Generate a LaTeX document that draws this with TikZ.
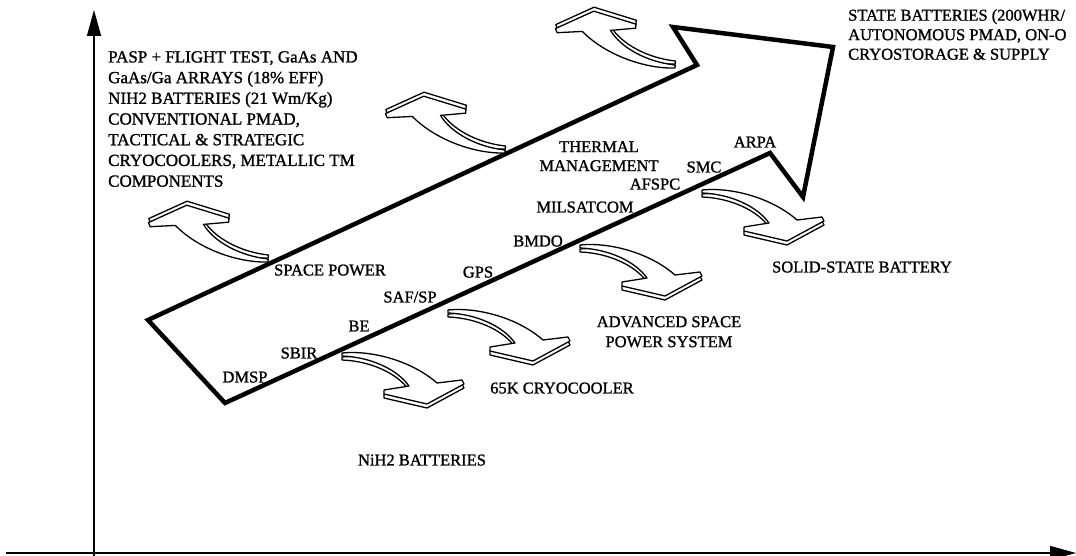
\documentclass[tikz,border=0pt]{standalone}
\usepackage{fontspec}
\setmainfont{Liberation Serif}[FakeBold=1.2]
\usetikzlibrary{arrows.meta}

\newcommand{\bentpath}{(0,0) .. controls (30,-3) and (70,8) .. (95,30) -- (120,27) -- (122,31) -- (85,51) -- (42,41) -- (42,37) -- (67,33) .. controls (55,16) and (28,4) .. (0,3) -- cycle}
\newcommand{\bentarrow}[3]{%
  \begin{scope}[shift={#1},rotate=#2,scale=#3]
    \draw[bentshape,shift={(0,4)}] \bentpath;
    \draw[bentshape] \bentpath;
  \end{scope}}

\begin{document}
\begin{tikzpicture}[x=1pt,y=-1pt,>={Triangle[length=26pt,width=14pt]},
  lbl/.style={font=\fontsize{16.5}{20.7}\selectfont,inner sep=0pt,text height=10.9pt,text depth=0pt},
  blk/.style={font=\fontsize{16.5}{20.7}\selectfont,inner sep=0pt,align=left,anchor=north west},
  cbk/.style={font=\fontsize{16.5}{20}\selectfont,inner sep=0pt,align=center,anchor=north},
  bentshape/.style={draw,fill=white,line width=1.3pt,line join=round}]
  \useasboundingbox (0,0) rectangle (1076,556);
  \clip (0,0) rectangle (1076,556);
  \draw[line width=1.6pt,->] (94,556) -- (94,10);
  \draw[line width=1.6pt,->] (6,553) -- (1076,553);
  \draw[line width=4.5pt] (148,320) -- (697,65) -- (673,27) -- (833,47) -- (803,197) -- (770,153) -- (225,403) -- cycle;
  \bentarrow{(268,262)}{176}{1}
  \bentarrow{(505,153)}{176}{1}
  \bentarrow{(675,68)}{176}{1}
  \bentarrow{(342,353)}{0}{1}
  \bentarrow{(448,310)}{0}{1}
  \bentarrow{(580,245)}{0}{1}
  \bentarrow{(702,190)}{0}{1}
  \node[blk,font=\fontsize{17}{20.7}\selectfont] (pasp) at (108,51) {PASP + FLIGHT TEST, GaAs AND\\GaAs/Ga ARRAYS (18\% EFF)\\NIH2 BATTERIES (21 Wm/Kg)\\CONVENTIONAL PMAD,\\TACTICAL \& STRATEGIC\\CRYOCOOLERS, METALLIC TM\\COMPONENTS};
  \node[blk,font=\fontsize{16.5}{19.5}\selectfont] (future) at (848,9) {STATE BATTERIES (200WHR/\\AUTONOMOUS PMAD, ON-O\\CRYOSTORAGE \& SUPPLY};
  \node[lbl,anchor=west] (spacepower) at (274,270) {SPACE POWER};
  \node[cbk,font=\fontsize{16.5}{19}\selectfont] (thermal) at (599,141) {THERMAL\\MANAGEMENT};
  \node[lbl] (smc) at (704,167) {SMC};
  \node[lbl] (arpa) at (755,142) {ARPA};
  \node[lbl] (afspc) at (655,184) {AFSPC};
  \node[lbl] (milsatcom) at (585,207) {MILSATCOM};
  \node[lbl] (bmdo) at (538,241) {BMDO};
  \node[lbl] (gps) at (478,272) {GPS};
  \node[lbl] (safsp) at (410,297) {SAF/SP};
  \node[lbl] (be) at (359,326) {BE};
  \node[lbl] (sbir) at (299,353) {SBIR};
  \node[lbl] (dmsp) at (245,377) {DMSP};
  \node[lbl] (cryocooler) at (562,388) {65K CRYOCOOLER};
  \node[lbl] (nih2) at (422,460) {NiH2 BATTERIES};
  \node[cbk] (asps) at (669,316) {ADVANCED SPACE\\POWER SYSTEM};
  \node[lbl] (solidstate) at (862,267) {SOLID-STATE BATTERY};
\end{tikzpicture}
\end{document}
